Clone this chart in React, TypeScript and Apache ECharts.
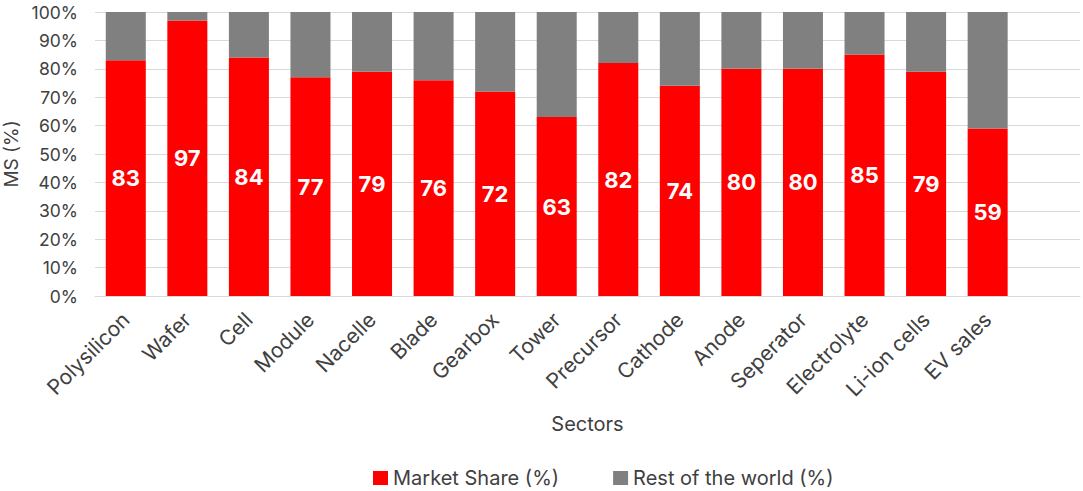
import React, { useEffect, useRef } from "react";
import * as echarts from "echarts";

const categories = [
  "Polysilicon", "Wafer", "Cell", "Module", "Nacelle", "Blade", "Gearbox", "Tower",
  "Precursor", "Cathode", "Anode", "Seperator", "Electrolyte", "Li-ion cells", "EV sales", "",
];
const marketShare = [83, 97, 84, 77, 79, 76, 72, 63, 82, 74, 80, 80, 85, 79, 59, null];
const restOfWorld = [17, 3, 16, 23, 21, 24, 28, 37, 18, 26, 20, 20, 15, 21, 41, null];
const yTicks = [0, 10, 20, 30, 40, 50, 60, 70, 80, 90, 100];

const FONT = "Inter, 'Noto Sans', sans-serif";
const TXT = "#404040";

export default function App() {
  const ref = useRef<HTMLDivElement>(null);
  useEffect(() => {
    if (!ref.current) return;
    const chart = echarts.init(ref.current, undefined, { renderer: "svg" });
    chart.setOption({
      animation: false,
      textStyle: { fontFamily: FONT },
      grid: { left: 95, right: 3, top: 12, bottom: 195, containLabel: false, outerBoundsMode: "none" },
      legend: {
        top: 463,
        left: 368,
        itemWidth: 15,
        itemHeight: 14,
        itemGap: 54,
        icon: "rect",
        textStyle: { fontSize: 20, color: TXT, fontFamily: FONT },
        data: ["Market Share (%)", "Rest of the world (%)"],
      },
      xAxis: {
        type: "category",
        data: categories,
        name: "Sectors",
        nameLocation: "middle",
        nameGap: 118,
        nameTextStyle: { fontSize: 20, color: TXT, fontFamily: FONT },
        axisLine: { show: true, lineStyle: { color: "#d9d9d9" } },
        axisTick: { show: false },
        axisLabel: { rotate: 45, fontSize: 21, color: TXT, interval: 0, margin: 20, fontFamily: FONT },
      },
      yAxis: {
        type: "value",
        min: yTicks[0],
        max: yTicks[yTicks.length - 1],
        interval: 10,
        name: "MS (%)",
        nameLocation: "middle",
        nameGap: 61,
        nameTextStyle: { fontSize: 19, color: TXT, fontFamily: FONT },
        axisLine: { show: false },
        axisTick: { show: false },
        axisLabel: { formatter: "{value}%", fontSize: 17.5, color: TXT, margin: 17, fontFamily: FONT },
        splitLine: { lineStyle: { color: "#d9d9d9" } },
      },
      series: [
        {
          name: "Market Share (%)",
          type: "bar",
          stack: "ms",
          data: marketShare,
          barWidth: "65%",
          itemStyle: { color: "#ff0000" },
          label: {
            show: true,
            position: "inside",
            color: "#ffffff",
            fontWeight: "bold",
            fontSize: 22,
            fontFamily: FONT,
          },
        },
        {
          name: "Rest of the world (%)",
          type: "bar",
          stack: "ms",
          data: restOfWorld,
          barWidth: "65%",
          itemStyle: { color: "#808080" },
        },
      ],
    });
    return () => chart.dispose();
  }, []);
  return <div ref={ref} style={{ position: "absolute", left: 0, top: 0, width: 1083, height: 491 }} />;
}
